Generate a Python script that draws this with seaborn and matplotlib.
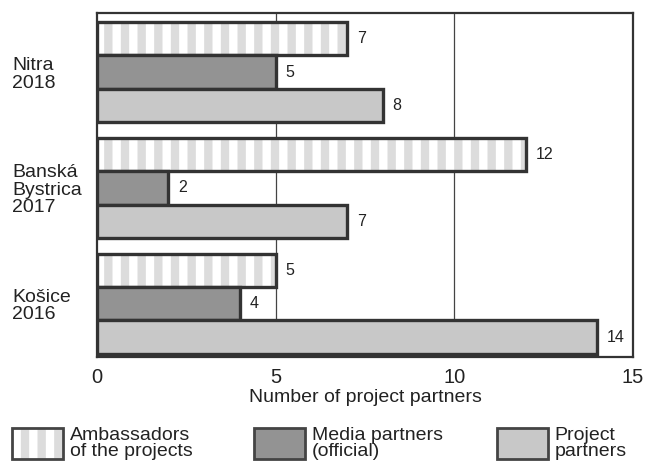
import matplotlib
matplotlib.use("Agg")
import matplotlib.pyplot as plt
from matplotlib import font_manager
from matplotlib.patches import Patch, Rectangle
import seaborn as sns
import pandas as pd

# Values per city and partner type
cities = ["Nitra\n2018", "Banská\nBystrica\n2017", "Košice\n2016"]
partner_types = ["Ambassadors\nof the projects", "Media partners\n(official)", "Project\npartners"]
ambassadors = [7, 12, 5]
media = [5, 2, 4]
project = [8, 7, 14]
x_ticks = [0, 5, 10, 15]

sns.set_theme(style="white")
plt.rcParams["font.family"] = ["Liberation Sans", "DejaVu Sans"]
plt.rcParams["hatch.linewidth"] = 6.0

names = {f.name for f in font_manager.fontManager.ttflist}
narrow = "Liberation Sans Narrow" if "Liberation Sans Narrow" in names else "Liberation Sans"

df = pd.DataFrame({
    "city": cities * 3,
    "type": [partner_types[0]] * 3 + [partner_types[1]] * 3 + [partner_types[2]] * 3,
    "value": ambassadors + media + project,
})

edge = "#333333"
stripe = "#dcdcdc"
text_c = "#222222"
palette = {partner_types[0]: "white", partner_types[1]: "#939393", partner_types[2]: "#c8c8c8"}

fig = plt.figure(figsize=(6.46, 4.65), dpi=100)
ax = fig.add_axes([97 / 646, 1 - 357 / 465, 536 / 646, 344 / 465])

sns.barplot(data=df, y="city", x="value", hue="type", order=cities,
            hue_order=partner_types, palette=palette, orient="h",
            width=0.862, edgecolor=edge, linewidth=2.4, saturation=1,
            legend=False, ax=ax)

# Striped fill for the ambassadors bars, drawn beneath the outlined bars
for bar in ax.containers[0]:
    r = Rectangle(bar.get_xy(), bar.get_width(), bar.get_height(),
                  facecolor="white", edgecolor=stripe, hatch="|",
                  linewidth=0, zorder=bar.get_zorder() - 0.1)
    ax.add_patch(r)
    bar.set_facecolor("none")

for cont in ax.containers:
    ax.bar_label(cont, fmt="%g", padding=7, fontsize=11.5, color=text_c,
                 family=narrow)

ax.set_xlim(0, 15)
ax.set_ylim(2.46, -0.51)
ax.set_xticks(x_ticks)
ax.set_xticklabels([str(t) for t in x_ticks], fontsize=14.5, color=text_c)
ax.set_xlabel("Number of project partners", fontsize=14, color=text_c, labelpad=1)
ax.set_ylabel("")
for xv in x_ticks[1:-1]:
    ax.axvline(xv, color="#444444", linewidth=0.9, zorder=0)

ax.tick_params(axis="x", length=0, pad=8)
ax.tick_params(axis="y", length=0, pad=61)
for lab in ax.get_yticklabels():
    lab.set_horizontalalignment("left")
    lab.set_multialignment("left")
    lab.set_fontsize(14)
    lab.set_linespacing(1.05)
    lab.set_color(text_c)

for sp in ax.spines.values():
    sp.set_visible(True)
    sp.set_color(edge)
    sp.set_linewidth(1.6)

box_edge = "#444444"
handles = [
    # the hatch colour follows the edge colour, so stripes and outline are separate patches
    (Patch(facecolor="white", edgecolor=stripe, hatch="|", linewidth=0),
     Patch(facecolor="none", edgecolor=box_edge, linewidth=2)),
    Patch(facecolor="#939393", edgecolor=box_edge, linewidth=2),
    Patch(facecolor="#c8c8c8", edgecolor=box_edge, linewidth=2),
]

lx = [12, 254, 497]
for h, lab, x in zip(handles, partner_types, lx):
    leg = fig.legend([h], [lab], loc="upper left",
                     bbox_to_anchor=(x / 646, 1 - 427 / 465),
                     frameon=False, fontsize=14, handlelength=2.63,
                     handleheight=2.05, handletextpad=0.33, borderpad=0,
                     borderaxespad=0, labelspacing=0)
    for t in leg.get_texts():
        t.set_linespacing(0.92)
        t.set_color(text_c)

fig.savefig("out.png", dpi=100)
